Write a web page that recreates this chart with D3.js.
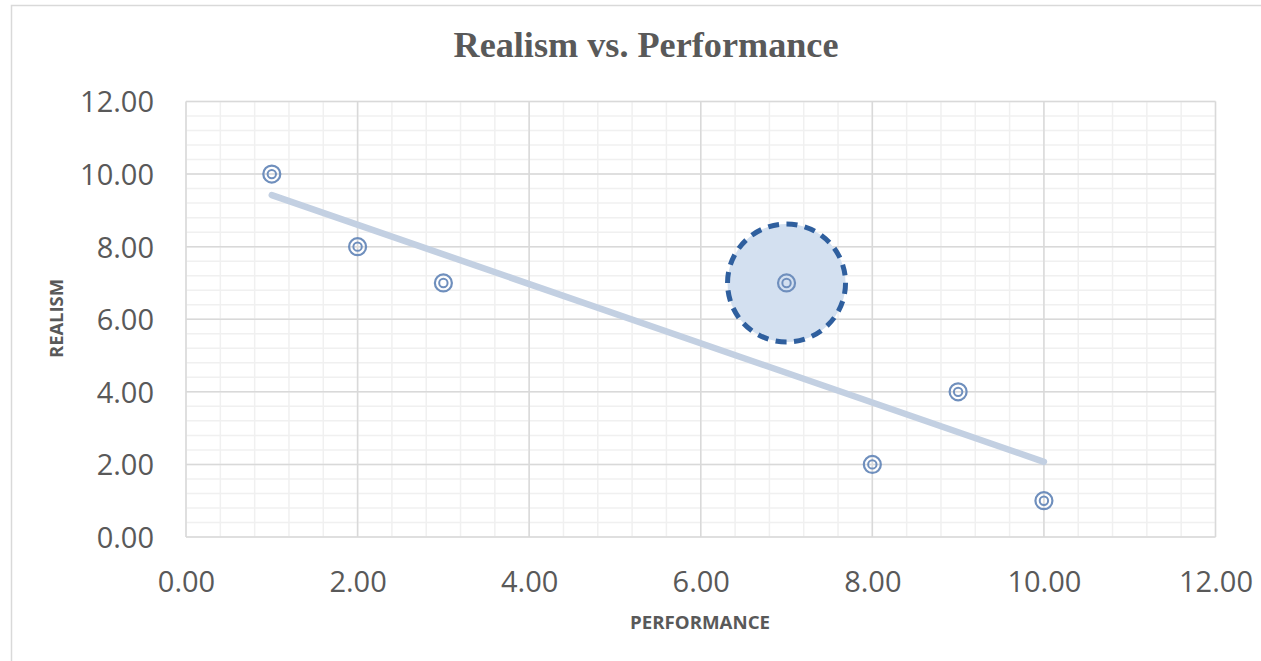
<!DOCTYPE html>
<html><head><meta charset="utf-8">
<script src="https://cdn.jsdelivr.net/npm/d3@7"></script>
<style>body{margin:0;background:#fff;} svg{display:block;}</style>
</head><body>
<svg id="c" width="1261" height="661"></svg>
<script>
const performance = [1, 2, 3, 7, 8, 9, 10];
const realism = [10, 8, 7, 7, 2, 4, 1];
const highlighted = [7];
const tickValues = [0, 2, 4, 6, 8, 10, 12];
const chartTitle = "Realism vs. Performance";
const xTitle = "PERFORMANCE";
const yTitle = "REALISM";

const svg = d3.select("#c");
const m = {l: 186, r: 1215.5, t: 101.5, b: 537};
const x = d3.scaleLinear().domain([0, 12]).range([m.l, m.r]);
const y = d3.scaleLinear().domain([0, 12]).range([m.b, m.t]);

svg.append("rect").attr("x", 11.5).attr("y", 5.5).attr("width", 1260).attr("height", 660)
  .attr("fill", "#fff").attr("stroke", "#d9d9d9").attr("stroke-width", 1.5);

// minor grid
const minor = d3.range(0, 12.001, 0.4);
const g = svg.append("g");
g.selectAll(".mx").data(minor).join("line")
  .attr("x1", d => x(d)).attr("x2", d => x(d)).attr("y1", m.t).attr("y2", m.b)
  .attr("stroke", "#f0f0f0").attr("stroke-width", 1.5);
g.selectAll(".my").data(minor).join("line")
  .attr("y1", d => y(d)).attr("y2", d => y(d)).attr("x1", m.l).attr("x2", m.r)
  .attr("stroke", "#f0f0f0").attr("stroke-width", 1.5);
// major grid
g.selectAll(".Mx").data(tickValues).join("line")
  .attr("x1", d => x(d)).attr("x2", d => x(d)).attr("y1", m.t).attr("y2", m.b)
  .attr("stroke", "#d9d9d9").attr("stroke-width", 1.5);
g.selectAll(".My").data(tickValues).join("line")
  .attr("y1", d => y(d)).attr("y2", d => y(d)).attr("x1", m.l).attr("x2", m.r)
  .attr("stroke", "#d9d9d9").attr("stroke-width", 1.5);

// axes labels
const xAxis = d3.axisBottom(x).tickValues(tickValues).tickFormat(d3.format(".2f")).tickSize(0).tickPadding(0);
const xa = svg.append("g").attr("transform", `translate(0,${m.b})`).call(xAxis);
xa.select(".domain").remove();
xa.selectAll("text").attr("dy", null).attr("y", 55).attr("fill", "#595959")
  .style("font-family", "'Open Sans', sans-serif").style("font-size", "29px");
const yAxis = d3.axisLeft(y).tickValues(tickValues).tickFormat(d3.format(".2f")).tickSize(0).tickPadding(0);
const ya = svg.append("g").attr("transform", `translate(154,0)`).call(yAxis);
ya.select(".domain").remove();
ya.selectAll("text").attr("x", 0).attr("dy", "0.36em").attr("fill", "#595959")
  .style("font-family", "'Open Sans', sans-serif").style("font-size", "29px");

// trendline (least squares from data)
const mx = d3.mean(performance), my = d3.mean(realism);
const slope = d3.sum(performance.map((v, i) => (v - mx) * (realism[i] - my))) /
              d3.sum(performance.map(v => (v - mx) ** 2));
const icpt = my - slope * mx;
const x0 = d3.min(performance), x1 = d3.max(performance);
svg.append("line").attr("x1", x(x0)).attr("y1", y(icpt + slope * x0))
  .attr("x2", x(x1)).attr("y2", y(icpt + slope * x1))
  .attr("stroke", "#c3d0e2").attr("stroke-width", 6.5).attr("stroke-linecap", "round");

// highlight circle
const pts = performance.map((p, i) => ({p, r: realism[i]}));
svg.selectAll(".hl").data(pts.filter(d => highlighted.includes(d.p))).join("circle")
  .attr("cx", d => x(d.p)).attr("cy", d => y(d.r)).attr("r", 59)
  .attr("fill", "#d3e0f0").attr("stroke", "#2f5f9e").attr("stroke-width", 5)
  .attr("stroke-dasharray", "11 7.5");

// markers
const mk = svg.append("g");
mk.selectAll(".o").data(pts).join("circle")
  .attr("cx", d => x(d.p)).attr("cy", d => y(d.r)).attr("r", 8.5)
  .attr("fill", "none").attr("stroke", "#6f8fbd").attr("stroke-width", 2.2);
mk.selectAll(".i").data(pts).join("circle")
  .attr("cx", d => x(d.p)).attr("cy", d => y(d.r)).attr("r", 4.2)
  .attr("fill", "none").attr("stroke", "#6f8fbd").attr("stroke-width", 2);

// titles
svg.append("text").attr("x", 646).attr("y", 57).attr("text-anchor", "middle")
  .attr("fill", "#595959").style("font-family", "'Liberation Serif', serif")
  .style("font-weight", "bold").style("font-size", "35px")
  .attr("textLength", 385).attr("lengthAdjust", "spacingAndGlyphs").text(chartTitle);
svg.append("text").attr("x", 700).attr("y", 628.5).attr("text-anchor", "middle")
  .attr("fill", "#595959").style("font-family", "'Open Sans', sans-serif")
  .style("font-weight", "bold").style("font-size", "18px")
  .attr("textLength", 140).attr("lengthAdjust", "spacingAndGlyphs").text(xTitle);
svg.append("text").attr("transform", "translate(63,318.5) rotate(-90)").attr("text-anchor", "middle")
  .attr("fill", "#595959").style("font-family", "'Open Sans', sans-serif")
  .style("font-weight", "bold").style("font-size", "18px")
  .attr("textLength", 79).attr("lengthAdjust", "spacingAndGlyphs").text(yTitle);
</script>
</body></html>
